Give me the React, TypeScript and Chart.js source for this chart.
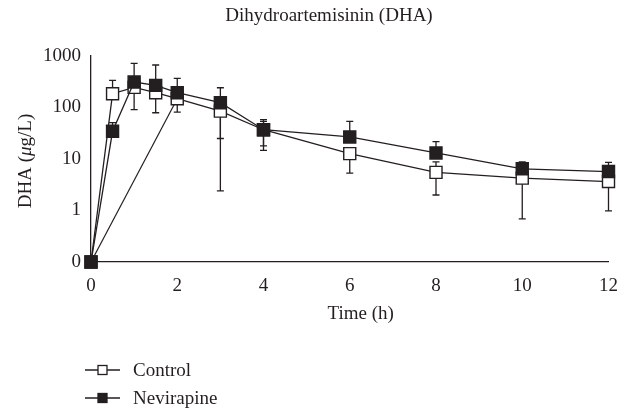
import React, { useEffect, useRef } from 'react';
import { Chart, registerables } from 'chart.js';

Chart.register(...registerables);

const TITLE = 'Dihydroartemisinin (DHA)';
const X_TITLE = 'Time (h)';
const Y_TITLE_PARTS = [
  { text: 'DHA (', italic: false },
  { text: 'μ', italic: true },
  { text: 'g/L)', italic: false },
];

const times = [0, 0.5, 1, 1.5, 2, 3, 4, 6, 8, 10, 12];
const controlValues = [0, 185, 246, 194, 148, 85, 37, 12.7, 5.5, 4.25, 3.65];
const controlUpper = [null, 336, null, null, null, null, 54, null, 8.8, null, null];
const controlLower = [null, null, 91, 79, 81, 2.4, 14.7, 5.3, 2.0, 0.69, 0.98];
const nevirapineValues = [0, 34.5, 312, 269, 194, 124, 37, 26.8, 13.1, 6.45, 5.7];
const nevirapineUpper = [null, 51, 722, 669, 368, 242, 58, 54, 21.7, 8.8, 8.6];
const nevirapineLower = [null, null, null, null, null, 25, 18, null, null, null, null];
const extraTimes = [0, 2];
const extraValues = [0, 148];

const xTicks = [0, 2, 4, 6, 8, 10, 12];
const yTicks = [0, 1, 10, 100, 1000];
const AXIS_ZERO = 0.1; // log-axis position labelled "0"

const legendItems = [
  { label: 'Control', filled: false },
  { label: 'Nevirapine', filled: true },
];

const INK = '#231f20';
const FONT_FAMILY = '"Liberation Serif", "Times New Roman", serif';
const FONT_SIZE = 19;

const toAxis = (v: number | null) => (v === null ? null : v === 0 ? AXIS_ZERO : v);

function points(xs: number[], ys: (number | null)[]) {
  return xs.map((x, i) => ({ x, y: toAxis(ys[i]) }));
}

const errorBars: Record<string, { upper: (number | null)[]; lower: (number | null)[] }> = {
  Control: { upper: controlUpper, lower: controlLower },
  Nevirapine: { upper: nevirapineUpper, lower: nevirapineLower },
};

const errorBarPlugin = {
  id: 'errorBars',
  beforeDatasetsDraw(chart: any) {
    const ctx = chart.ctx;
    const xs = chart.scales.x;
    const ys = chart.scales.y;
    ctx.save();
    ctx.strokeStyle = INK;
    ctx.lineWidth = 1.3;
    chart.data.datasets.forEach((ds: any) => {
      const eb = errorBars[ds.label];
      if (!eb) return;
      ds.data.forEach((p: any, i: number) => {
        const px = xs.getPixelForValue(p.x);
        const py = ys.getPixelForValue(p.y);
        const ends = [eb.upper[i], eb.lower[i]];
        ends.forEach((e) => {
          if (e === null || e === undefined) return;
          const ey = ys.getPixelForValue(e);
          ctx.beginPath();
          ctx.moveTo(px, py);
          ctx.lineTo(px, ey);
          ctx.moveTo(px - 3.5, ey);
          ctx.lineTo(px + 3.5, ey);
          ctx.stroke();
        });
      });
    });
    ctx.restore();
  },
};

const textPlugin = {
  id: 'texts',
  afterDraw(chart: any) {
    const ctx = chart.ctx;
    const area = chart.chartArea;
    ctx.save();
    ctx.fillStyle = INK;
    ctx.font = `${FONT_SIZE}px ${FONT_FAMILY}`;
    ctx.textBaseline = 'middle';
    ctx.textAlign = 'center';
    // title
    ctx.fillText(TITLE, 329, 16);
    // x title
    ctx.fillText(X_TITLE, (area.left + area.right) / 2 + 11, 314);
    // y title (rotated, with italic mu)
    const fonts = Y_TITLE_PARTS.map((p) =>
      p.italic ? `italic ${FONT_SIZE}px ${FONT_FAMILY}` : `${FONT_SIZE}px ${FONT_FAMILY}`
    );
    let total = 0;
    const widths = Y_TITLE_PARTS.map((p, i) => {
      ctx.font = fonts[i];
      const w = ctx.measureText(p.text).width;
      total += w;
      return w;
    });
    ctx.translate(26, (area.top + area.bottom) / 2 + 2);
    ctx.rotate(-Math.PI / 2);
    ctx.textAlign = 'left';
    let cx = -total / 2;
    Y_TITLE_PARTS.forEach((p, i) => {
      ctx.font = fonts[i];
      ctx.fillText(p.text, cx, 0);
      cx += widths[i];
    });
    ctx.setTransform(1, 0, 0, 1, 0, 0);
    // legend
    ctx.font = `${FONT_SIZE}px ${FONT_FAMILY}`;
    ctx.textAlign = 'left';
    legendItems.forEach((item, i) => {
      const y = 370 + i * 28;
      ctx.strokeStyle = INK;
      ctx.lineWidth = 1.3;
      ctx.beginPath();
      ctx.moveTo(85, y);
      ctx.lineTo(120, y);
      ctx.stroke();
      const s = 9;
      ctx.fillStyle = item.filled ? INK : '#ffffff';
      ctx.fillRect(102.5 - s / 2, y - s / 2, s, s);
      ctx.strokeRect(102.5 - s / 2, y - s / 2, s, s);
      ctx.fillStyle = INK;
      ctx.fillText(item.label, 133, y + 1);
    });
    ctx.restore();
  },
};

export default function App() {
  const ref = useRef<HTMLCanvasElement | null>(null);
  useEffect(() => {
    document.body.style.margin = '0';
    const canvas = ref.current;
    if (!canvas) return;
    const markerCommon = {
      pointStyle: 'rect',
      pointRadius: 8.5,
      pointBorderWidth: 1.4,
      pointBorderColor: INK,
      borderColor: INK,
      borderWidth: 1.3,
      tension: 0,
      clip: false as any,
    };
    const chart = new Chart(canvas, {
      type: 'line',
      data: {
        datasets: [
          {
            label: 'extra',
            data: points(extraTimes, extraValues),
            borderColor: INK,
            borderWidth: 1.2,
            pointRadius: 0,
            clip: false as any,
            order: 3,
          },
          {
            label: 'Control',
            data: points(times, controlValues),
            ...markerCommon,
            pointBackgroundColor: '#ffffff',
            backgroundColor: '#ffffff',
            order: 2,
          },
          {
            label: 'Nevirapine',
            data: points(times, nevirapineValues),
            ...markerCommon,
            pointBackgroundColor: INK,
            backgroundColor: INK,
            order: 1,
          },
        ],
      },
      options: {
        animation: false,
        responsive: false,
        maintainAspectRatio: false,
        layout: { padding: { left: 0, top: 56, right: 20, bottom: 0 } },
        plugins: {
          legend: { display: false },
          title: { display: false },
          tooltip: { enabled: false },
        },
        scales: {
          x: {
            type: 'linear',
            min: 0,
            max: 12,
            grid: { display: false, drawTicks: false },
            border: { display: true, color: INK, width: 1.3 },
            afterBuildTicks: (scale: any) => {
              scale.ticks = xTicks.map((v) => ({ value: v }));
            },
            afterFit: (scale: any) => {
              scale.height = 409 - 262;
            },
            ticks: {
              padding: 13,
              color: INK,
              font: { family: FONT_FAMILY, size: FONT_SIZE },
              maxRotation: 0,
              callback: (v: any) => String(v),
            },
          },
          y: {
            type: 'logarithmic',
            min: AXIS_ZERO,
            max: 1000,
            grid: { display: false, drawTicks: false },
            border: { display: true, color: INK, width: 1.3 },
            afterBuildTicks: (scale: any) => {
              scale.ticks = yTicks.map((v) => ({ value: toAxis(v) }));
            },
            afterFit: (scale: any) => {
              scale.width = 91;
            },
            ticks: {
              padding: 10,
              color: INK,
              font: { family: FONT_FAMILY, size: FONT_SIZE },
              callback: (v: any) => (v === AXIS_ZERO ? '0' : String(v)),
            },
          },
        },
      },
      plugins: [errorBarPlugin, textPlugin],
    } as any);
    return () => chart.destroy();
  }, []);
  return (
    <div style={{ width: 631, height: 409 }}>
      <canvas ref={ref} width={631} height={409} style={{ display: 'block' }} />
    </div>
  );
}
